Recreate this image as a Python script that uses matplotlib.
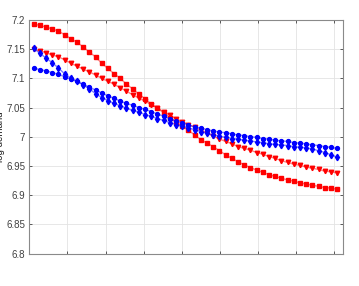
import numpy as np
import matplotlib
matplotlib.use("Agg")
import matplotlib.pyplot as plt

plt.rcParams['font.family'] = ['Liberation Sans', 'DejaVu Sans']

# four demand paths, one value per period
red_sq = [7.193, 7.191, 7.188, 7.185, 7.181, 7.175, 7.168, 7.162, 7.154, 7.145,
          7.137, 7.126, 7.117, 7.108, 7.100, 7.090, 7.082, 7.073, 7.065, 7.056,
          7.049, 7.041, 7.033, 7.025, 7.018, 7.011, 7.003, 6.995, 6.989, 6.983,
          6.976, 6.969, 6.963, 6.957, 6.952, 6.947, 6.943, 6.939, 6.935, 6.932,
          6.929, 6.926, 6.924, 6.921, 6.919, 6.917, 6.915, 6.913, 6.912, 6.910]

red_tri = [7.150, 7.147, 7.144, 7.140, 7.137, 7.132, 7.126, 7.121, 7.116, 7.111,
           7.106, 7.100, 7.095, 7.090, 7.084, 7.078, 7.072, 7.066, 7.061, 7.055,
           7.049, 7.043, 7.037, 7.031, 7.026, 7.021, 7.016, 7.011, 7.006, 7.001,
           6.996, 6.992, 6.988, 6.983, 6.980, 6.977, 6.973, 6.970, 6.966, 6.963,
           6.959, 6.956, 6.953, 6.951, 6.948, 6.946, 6.944, 6.941, 6.940, 6.938]

blue_dot = [7.118, 7.115, 7.113, 7.110, 7.107, 7.103, 7.099, 7.095, 7.090, 7.085,
            7.080, 7.075, 7.070, 7.066, 7.061, 7.057, 7.054, 7.050, 7.047, 7.043,
            7.039, 7.035, 7.031, 7.027, 7.024, 7.020, 7.017, 7.015, 7.012, 7.010,
            7.008, 7.007, 7.005, 7.003, 7.002, 7.000, 6.999, 6.997, 6.996, 6.994,
            6.993, 6.992, 6.990, 6.989, 6.988, 6.986, 6.985, 6.983, 6.982, 6.980]

blue_dia = [7.152, 7.143, 7.135, 7.127, 7.118, 7.108, 7.101, 7.095, 7.089, 7.082,
            7.074, 7.067, 7.062, 7.057, 7.053, 7.049, 7.045, 7.042, 7.038, 7.035,
            7.031, 7.028, 7.024, 7.021, 7.018, 7.015, 7.012, 7.009, 7.006, 7.003,
            7.001, 6.999, 6.997, 6.996, 6.994, 6.993, 6.991, 6.990, 6.988, 6.987,
            6.986, 6.985, 6.983, 6.982, 6.981, 6.979, 6.976, 6.973, 6.969, 6.965]

t = np.arange(len(red_sq))

yticks = [6.8, 6.85, 6.9, 6.95, 7.0, 7.05, 7.1, 7.15, 7.2]
ytick_labels = ["6.8", "6.85", "6.9", "6.95", "7", "7.05", "7.1", "7.15", "7.2"]

fig = plt.figure(figsize=(3.59, 2.86), dpi=100)
ax = fig.add_axes([0.0816, 0.1136, 0.8746, 0.8164])

red_line = (1, 0, 0, 0.5)
blue_line = (0, 0, 1, 0.5)
ax.plot(t, red_sq, color=red_line, lw=1.0, marker='s', ms=3.0, mfc='red', mec='red')
ax.plot(t, red_tri, color=red_line, lw=1.0, marker='v', ms=3.2, mfc='red', mec='red')
ax.plot(t, blue_dot, color=blue_line, lw=1.0, marker='o', ms=2.8, mfc='blue', mec='blue')
ax.plot(t, blue_dia, color=blue_line, lw=1.0, marker='d', ms=3.3, mfc='blue', mec='blue')

x_lo, x_hi = -0.68, 49.97
ax.set_xlim(x_lo, x_hi)
ax.set_ylim(6.8, 7.2)
ax.set_xticks(np.linspace(x_lo, 48.5, 9))
ax.set_xticklabels([])
ax.set_yticks(yticks)
ax.set_yticklabels(ytick_labels)

ax.grid(True, color='#e3e3e3', lw=0.6)
ax.set_axisbelow(True)
ax.tick_params(direction='in', length=2.5, width=0.6, top=True, right=True,
               labelsize=7, colors='#404040', pad=3)
for s in ax.spines.values():
    s.set_color('#8a8a8a')
    s.set_linewidth(0.8)

ax.set_ylabel("log demand", fontsize=7, color='#262626')
ax.yaxis.set_label_coords(-0.078, 0.5)

fig.savefig("out.png", dpi=100)
